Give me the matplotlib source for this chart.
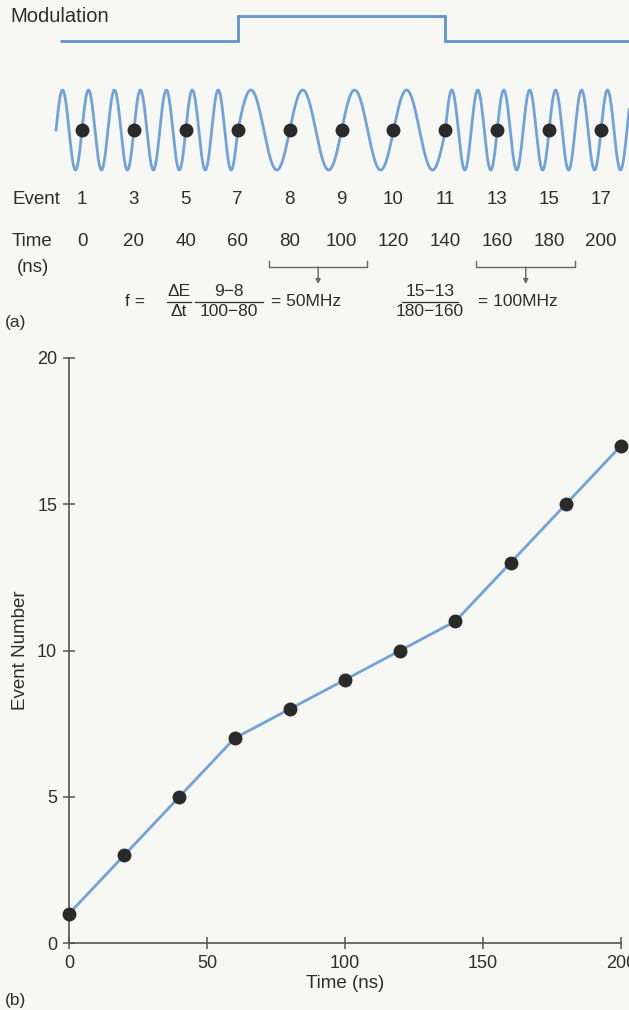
import matplotlib
matplotlib.use("Agg")
import matplotlib.pyplot as plt
import numpy as np

plt.rcParams["font.family"] = ["Liberation Sans", "DejaVu Sans"]

# data
EVENT_TIME = [0, 20, 40, 60, 80, 100, 120, 140, 160, 180, 200]
EVENT_NUM = [1, 3, 5, 7, 8, 9, 10, 11, 13, 15, 17]
MOD_EDGES = [-8.5, 60, 140, 211]
MOD_LEVEL = [0, 1, 0]
FREQ_EDGES = [-10, 60, 140, 211]       # ns
FREQ_MHZ = [100, 50, 100]
BRACKETS = [(80, 100), (160, 180)]

W, H = 629, 1010
BLUE = "#6fa3da"
DOT = "#2a2a2a"
TXT = "#2e2e2e"
BG = "#f7f7f3"

fig = plt.figure(figsize=(W / 100, H / 100), dpi=100, facecolor=BG)


def fy(py):
    return 1 - py / H


# time axis of panel (a): t=0 at x=82 px, t=200 at x=601 px
PX_PER_NS = (601 - 82) / 200
T_LEFT = -82 / PX_PER_NS
T_RIGHT = (W - 82) / PX_PER_NS

# modulation
ax_mod = fig.add_axes([0, fy(51), 1, 45 / H])
ax_mod.stairs(MOD_LEVEL, MOD_EDGES, baseline=None, color="#5f93d2", lw=2)
ax_mod.set_xlim(T_LEFT, T_RIGHT)
ax_mod.set_ylim(-0.4, 1.4)
ax_mod.axis("off")

# carrier wave, phase integrated from the frequency segments
ax_w = fig.add_axes([0, fy(175), 1, 90 / H])
t = np.linspace(FREQ_EDGES[0], FREQ_EDGES[-1], 3000)
seg = np.clip(np.searchsorted(FREQ_EDGES, t, side="right") - 1, 0, len(FREQ_MHZ) - 1)
f = np.array(FREQ_MHZ)[seg]
phase = np.concatenate([[0], np.cumsum(f[1:] * np.diff(t) * 1e-3)])
phase -= np.interp(0, t, phase)
ax_w.plot(t, np.sin(2 * np.pi * phase), color=BLUE, lw=2)
ax_w.plot(EVENT_TIME, np.zeros(len(EVENT_TIME)), "o", color=DOT, ms=9, zorder=3)
ax_w.set_xlim(T_LEFT, T_RIGHT)
ax_w.set_ylim(-1.125, 1.125)
ax_w.axis("off")

# labels of panel (a), y in pixel rows
ax_a = fig.add_axes([0, fy(340), 1, 340 / H])
ax_a.set_xlim(T_LEFT, T_RIGHT)
ax_a.set_ylim(340, 0)
ax_a.axis("off")
ax_a.patch.set_alpha(0)
tr = ax_a.get_yaxis_transform()
fs = 13.5

ax_a.text(10 / W, 17, "Modulation", transform=tr, fontsize=14.5, color=TXT, va="center")
ax_a.text(12 / W, 200, "Event", transform=tr, fontsize=fs, color=TXT, va="center")
ax_a.text(12 / W, 242, "Time", transform=tr, fontsize=fs, color=TXT, va="center")
ax_a.text(17 / W, 267, "(ns)", transform=tr, fontsize=fs, color=TXT, va="center")
for tt, ev in zip(EVENT_TIME, EVENT_NUM):
    ax_a.text(tt, 200, str(ev), fontsize=fs, color=TXT, ha="center", va="center")
    ax_a.text(tt, 242, str(tt), fontsize=fs, color=TXT, ha="center", va="center")

for t1, t2 in BRACKETS:
    c = (t1 + t2) / 2 + 1
    xs = [c - 19, c - 19, c + 19, c + 19]
    ax_a.plot(xs, [261, 267, 267, 261], color="#666666", lw=1)
    ax_a.annotate("", xy=(c, 284), xytext=(c, 267),
                  arrowprops=dict(arrowstyle="-|>", color="#666666", lw=1,
                                  mutation_scale=7, shrinkA=0, shrinkB=0))

ffs = 12.5


def frac(xc, num, den, half):
    ax_a.text(xc / W, 291, num, transform=tr, fontsize=ffs, color=TXT, ha="center", va="center")
    ax_a.text(xc / W, 312, den, transform=tr, fontsize=ffs, color=TXT, ha="center", va="center")
    ax_a.plot([(xc - half) / W, (xc + half) / W], [301.5, 301.5], transform=tr,
              color=TXT, lw=0.9)


ax_a.text(135 / W, 301, "f =", transform=tr, fontsize=ffs, color=TXT, ha="center", va="center")
frac(179, "ΔE", "Δt", 12)
frac(229, "9−8", "100−80", 34)
ax_a.text(271 / W, 301, "= 50MHz", transform=tr, fontsize=ffs, color=TXT, va="center")
frac(430, "15−13", "180−160", 28)
ax_a.text(478 / W, 301, "= 100MHz", transform=tr, fontsize=ffs, color=TXT, va="center")
ax_a.text(5 / W, 322, "(a)", transform=tr, fontsize=ffs, color=TXT, va="center")

# panel (b)
ax = fig.add_axes([69 / W, fy(943), (621 - 69) / W, (943 - 358) / H])
ax.patch.set_alpha(0)
ax.plot(EVENT_TIME, EVENT_NUM, color=BLUE, lw=2, clip_on=False)
ax.plot(EVENT_TIME, EVENT_NUM, "o", color=DOT, ms=9, clip_on=False, zorder=3)
ax.set_xlim(0, 200)
ax.set_ylim(0, 20)
ax.set_xticks([0, 50, 100, 150, 200])
ax.set_yticks([0, 5, 10, 15, 20])
for s in ["top", "right"]:
    ax.spines[s].set_visible(False)
for s in ["left", "bottom"]:
    ax.spines[s].set_color("#555555")
    ax.spines[s].set_linewidth(1.2)
ax.tick_params(direction="inout", length=9, width=1.1, color="#555555",
               labelsize=13, labelcolor=TXT, pad=4)
ax.set_xlabel("Time (ns)", fontsize=13.5, color=TXT, labelpad=2)
ax.set_ylabel("Event Number", fontsize=13.5, color=TXT, labelpad=6)
fig.text(5 / W, fy(1000), "(b)", fontsize=ffs, color=TXT, va="center")

fig.savefig("out.png", dpi=100, facecolor=BG)
